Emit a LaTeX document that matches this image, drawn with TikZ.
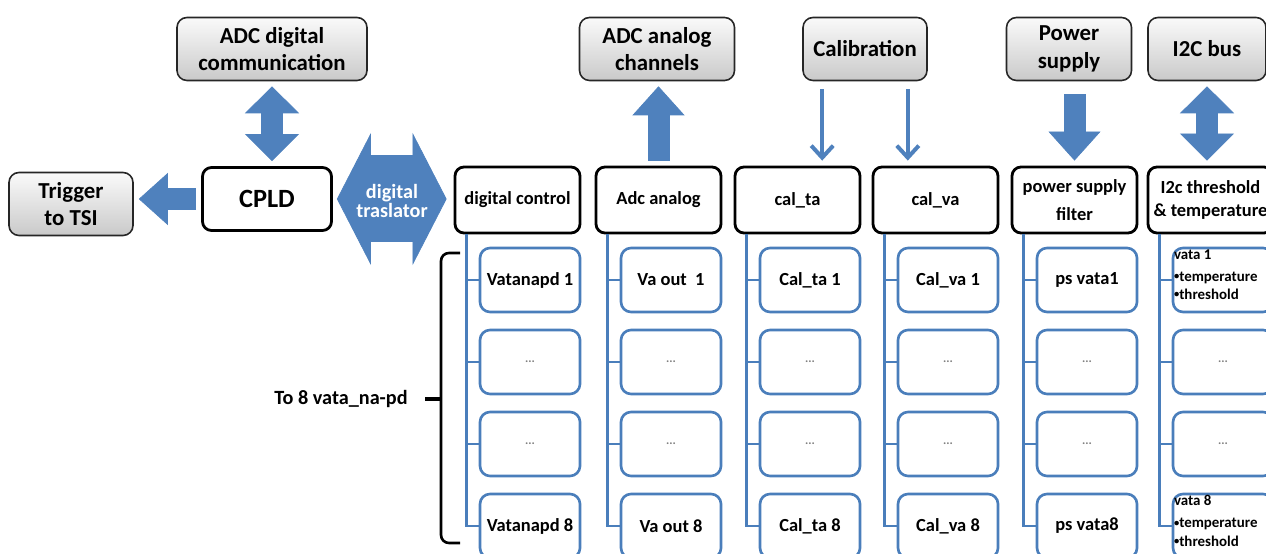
\documentclass[tikz,border=0pt]{standalone}
\usepackage{fontspec}
\setmainfont{Carlito}
\usepackage{xcolor}
\usetikzlibrary{arrows.meta}

\definecolor{arrowblue}{RGB}{79,129,189}
\definecolor{chanblue}{RGB}{74,126,187}
\newcommand{\smallbullet}{\raisebox{0.25ex}{\fontsize{6}{6}\selectfont\textbullet}}

\begin{document}
\begin{tikzpicture}[
    x=0.2mm, y=-0.2mm,
    font=\bfseries,
    outbox/.style ={draw=gray!30!black, line width=0.9pt, rounded corners=2mm,
                    top color=gray!4, bottom color=gray!42,
                    minimum height=12.6mm, align=center, inner sep=2pt,
                    font=\fontsize{13}{15.5}\selectfont\bfseries},
    ctrl/.style   ={draw=black, line width=1.6pt, rounded corners=1.8mm, fill=white,
                    minimum width=25mm, minimum height=13.2mm, align=center,
                    inner sep=1pt, font=\fontsize{10.5}{13}\selectfont\bfseries},
    chan/.style   ={draw=chanblue, line width=1.5pt, rounded corners=2mm, fill=white,
                    minimum width=20mm, minimum height=12.8mm, align=center,
                    font=\fontsize{10.5}{13}\selectfont\bfseries},
    note/.style   ={align=left, inner sep=0pt, font=\fontsize{8.5}{10.5}\selectfont\bfseries},
    bus/.style    ={draw=chanblue, line width=1.4pt},
    fat/.style    ={draw=arrowblue, line width=4.4mm, line cap=butt,
                    shorten <=1mm, shorten >=1mm},
    fatone/.style ={fat, -{Triangle[length=5.8mm,width=10.4mm,line width=0.4pt]}},
    fattwo/.style ={fat, {Triangle[length=5.4mm,width=10.8mm,line width=0.4pt]}-{Triangle[length=5.4mm,width=10.8mm,line width=0.4pt]}},
    thinflow/.style={draw=arrowblue, line width=0.8mm, -{Straight Barb[length=2.4mm,width=4.4mm]},
                    shorten <=1.6mm, shorten >=1mm}
]
\useasboundingbox (0,0) rectangle (1266,554);
\clip (0,0) rectangle (1266,554);

% --- outside blocks (top row and trigger) ---
\node[outbox, minimum width=38mm]   (adcdig) at ( 272, 49) {ADC digital\\communication};
\node[outbox, minimum width=24.8mm] (trig)   at (  71,204) {Trigger\\to TSI};
\node[outbox, minimum width=31mm]   (adcana) at ( 657, 49) {ADC analog\\channels};
\node[outbox, minimum width=24.8mm] (calib)  at ( 865, 49) {Calibration};
\node[outbox, minimum width=25mm]   (pwr)    at (1069, 49) {Power\\supply};
\node[outbox, minimum width=23.6mm] (i2c)    at (1207, 49) {I2C bus};

% --- CPLD and the board blocks ---
\node[ctrl, minimum width=25.8mm, minimum height=12.6mm,
      font=\fontsize{15}{17}\selectfont\bfseries] (cpld) at (267,199) {CPLD};
\node[ctrl] (dig) at ( 517.5,200) {digital control};
\node[ctrl] (ana) at ( 658.5,200) {Adc analog};
\node[ctrl] (cta) at ( 797.5,200) {cal\_ta};
\node[ctrl] (cva) at ( 935.5,200) {cal\_va};
\node[ctrl] (psf) at (1074.5,200) {power supply\\[3pt]filter};
\node[ctrl] (thr) at (1210.5,200) {I2c threshold\\\& temperature};

% --- one column of 4 channels under each block, hung on a bus line ---
\foreach \col/\x/\first/\last in {dig/530/Vatanapd 1/Vatanapd 8,
                                  ana/671/Va out~~1/Va out 8,
                                  cta/810/Cal\_ta 1/Cal\_ta 8,
                                  cva/948/Cal\_va 1/Cal\_va 8,
                                  psf/1087/ps vata1/ps vata8,
                                  thr/1223/{}/{}} {
  \node[chan] (\col1) at (\x,280) {\first};
  \node[chan] (\col2) at (\x,362) {\fontsize{7}{8}\selectfont\color{gray}...};
  \node[chan] (\col3) at (\x,444) {\fontsize{7}{8}\selectfont\color{gray}...};
  \node[chan] (\col4) at (\x,526) {\last};
  \draw[bus] ([xshift=2.6mm]\col.south west) |- (\col4.west);
  \foreach \r in {1,2,3}
    \draw[bus] ([xshift=2.6mm]\col.south west |- \col\r.west) -- (\col\r.west);
}
\node[note, anchor=north west] (thr1txt) at ([xshift=0.4mm,yshift=-0.5mm]thr1.north west)
  {vata 1\\[2pt]\smallbullet temperature\\\smallbullet threshold};
\node[note, anchor=north west] (thr4txt) at ([xshift=0.4mm,yshift=-0.5mm]thr4.north west)
  {vata 8\\[2pt]\smallbullet temperature\\\smallbullet threshold};

% --- brace over the 8 front-end chips ---
\coordinate (bt)  at (460,253);
\coordinate (bb)  at (460,543);
\coordinate (bm)  at (441,399);
\draw[line width=1.5pt, rounded corners=1.6mm] (bt) -| (bm) |- (bb);
\node[font=\fontsize{11.5}{13}\selectfont\bfseries] (eight) at (341,399) {To 8 vata\_na-pd};
\draw[line width=2pt] (bm) -- ([xshift=2.2mm]eight.east |- bm);

% --- block arrows ---
\draw[fattwo] (adcdig.south) -- (adcdig.south |- cpld.north);
\draw[fatone] (cpld.west) -- (cpld.west -| trig.east);
\draw[fatone] (ana.north) -- (ana.north |- adcana.south);
\draw[fatone, shorten <=2.6mm] (psf.north |- pwr.south) -- (psf.north);
\draw[fattwo] (i2c.south) -- (i2c.south |- thr.north);

% --- digital traslator: wide double arrow CPLD <-> digital control ---
\draw[draw=arrowblue, line width=17.4mm, line cap=butt, shorten <=0.8mm, shorten >=1.4mm,
      {Triangle[length=6.8mm,width=26.4mm,line width=0.4pt]}-{Triangle[length=6.8mm,width=26.4mm,line width=0.4pt]}]
  (cpld.east) -- (cpld.east -| dig.west);
\node[text=white, align=center, font=\fontsize{11.5}{10.5}\selectfont\bfseries] (trans) at (392,201)
  {digital\\traslator};

% --- calibration lines ---
\draw[thinflow] ([xshift=4mm]calib.south west) -- ([xshift=4mm]calib.south west |- cta.north);
\draw[thinflow] ([xshift=-4mm]calib.south east) -- ([xshift=-4mm]calib.south east |- cva.north);

\end{tikzpicture}
\end{document}
